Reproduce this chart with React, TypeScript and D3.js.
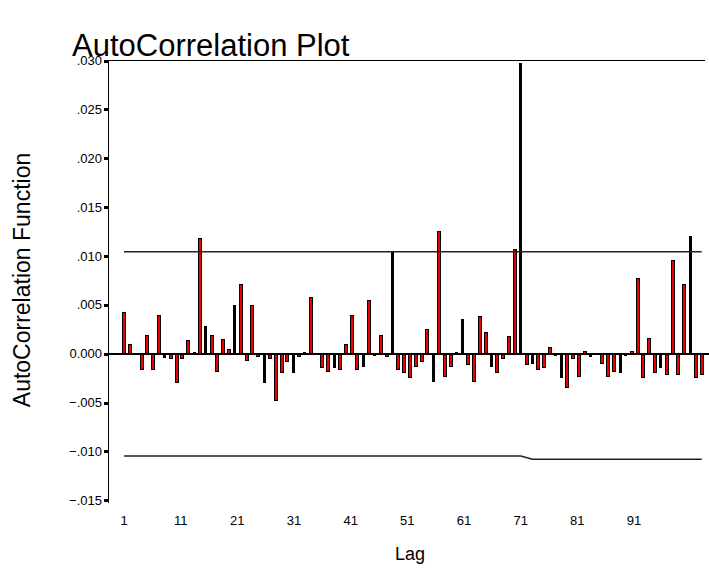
import React from 'react';
import * as d3 from 'd3';

// Autocorrelation values for lags 1..100
const acfValues: number[] = [
  0.0043, 0.0010, 0.0000, -0.0017, 0.0019, -0.0017, 0.0040, -0.0004, -0.0005, -0.0030,
  -0.0005, 0.0014, 0.0002, 0.0118, 0.0028, 0.0019, -0.0019, 0.0015, 0.0005, 0.0050,
  0.0071, -0.0007, 0.0050, -0.0003, -0.0030, -0.0005, -0.0048, -0.0020, -0.0008, -0.0020,
  -0.0003, 0.0002, 0.0058, 0.0000, -0.0015, -0.0019, -0.0015, -0.0017, 0.0010, 0.0040,
  -0.0017, -0.0014, 0.0055, -0.0002, 0.0019, -0.0003, 0.0104, -0.0017, -0.0020, -0.0025,
  -0.0014, -0.0008, 0.0025, -0.0029, 0.0126, -0.0024, -0.0014, 0.0002, 0.0036, -0.0012,
  -0.0029, 0.0039, 0.0022, -0.0014, -0.0020, -0.0005, 0.0018, 0.0107, 0.0298, -0.0012,
  -0.0010, -0.0017, -0.0015, 0.0007, -0.0002, -0.0025, -0.0035, -0.0005, -0.0024, 0.0003,
  -0.0003, 0.0000, -0.0010, -0.0024, -0.0019, -0.0020, -0.0002, 0.0003, 0.0078, -0.0025,
  0.0016, -0.0020, -0.0015, -0.0022, 0.0096, -0.0022, 0.0071, 0.0121, -0.0025, -0.0022,
];
const lags: number[] = acfValues.map((_, i) => i + 1);

// Lags whose bars are drawn narrower (solid black, no visible red fill) in the reference
const thinBarLags: number[] = [
  8, 13, 15, 20, 25, 30, 32, 37, 42, 44, 47, 54, 58, 59, 64, 69, 71, 75, 76, 81, 86, 87, 93, 98,
];

const yTickValues: number[] = [-0.015, -0.01, -0.005, 0, 0.005, 0.01, 0.015, 0.02, 0.025, 0.03];
const xTickLags: number[] = [1, 11, 21, 31, 41, 51, 61, 71, 81, 91];

const upperLimitLags: number[] = [1, 100];
const upperLimit: number[] = [0.01044, 0.01044];
const lowerLimitLags: number[] = [1, 69, 71, 100];
const lowerLimit: number[] = [-0.01047, -0.01047, -0.0108, -0.0108];

const FONT = "'Liberation Sans', Arial, sans-serif";

function fmtY(v: number): string {
  if (Math.abs(v) < 1e-12) return '0.000';
  const s = d3.format('.3f')(v);
  return s.replace('0.', '.');
}

export default function App() {
  const W = 709;
  const H = 588;
  const y = d3.scaleLinear().domain([-0.015, 0.03]).range([500.3, 60.6]);
  const x = d3.scaleLinear().domain([1, 100]).range([124, 701.7]);
  const xLab = d3.scaleLinear().domain([1, 91]).range([124, 634]);
  const axisX = 108.5;
  const y0 = Math.round(y(0));
  const thin = new Set(thinBarLags);

  const upperLine = d3
    .line<number>()
    .x((_, i) => x(upperLimitLags[i]))
    .y((d) => y(d))(upperLimit) as string;
  const lowerLine = d3
    .line<number>()
    .x((_, i) => x(lowerLimitLags[i]))
    .y((d) => y(d))(lowerLimit) as string;

  const bars = lags.map((lag, i) => {
    const v = acfValues[i];
    const cx = x(lag);
    const isThin = thin.has(lag);
    const w = isThin ? 3 : 4;
    const left = Math.round(cx - w / 2);
    const yv = Math.round(y(v));
    const top = Math.min(yv, y0);
    const h = Math.max(Math.abs(yv - y0), 1);
    return (
      <g key={lag}>
        <rect x={left} y={top} width={w} height={h} fill="#000" />
        {!isThin && h - 2 > 0 ? (
          <rect x={left + 1} y={top + 1} width={w - 2} height={h - 2} fill="#ee0000" />
        ) : null}
      </g>
    );
  });

  return (
    <svg
      width={W}
      height={H}
      style={{ position: 'absolute', left: 0, top: 0, background: '#fff' }}
      shapeRendering="crispEdges"
    >
      <rect x={0} y={0} width={W} height={H} fill="#fff" />
      <text x={72} y={56} fontFamily={FONT} fontSize={31} fill="#000">
        AutoCorrelation Plot
      </text>

      {/* top frame line */}
      <line x1={axisX} x2={705} y1={y(0.03)} y2={y(0.03)} stroke="#000" strokeWidth={1.5} />
      {/* y axis */}
      <line x1={axisX} x2={axisX} y1={y(0.03) - 1} y2={503} stroke="#000" strokeWidth={1.5} />
      {yTickValues.map((v) => (
        <g key={v}>
          <rect x={104} y={Math.round(y(v)) - 1.5} width={4} height={3} fill="#000" />
          <text
            x={102}
            y={y(v)}
            dy="0.35em"
            textAnchor="end"
            fontFamily={FONT}
            fontSize={13}
            fill="#000"
          >
            {fmtY(v)}
          </text>
        </g>
      ))}

      {bars}

      {/* zero line */}
      <line x1={axisX} x2={709} y1={y0} y2={y0} stroke="#000" strokeWidth={1.5} />

      {/* confidence limits */}
      <path d={upperLine} fill="none" stroke="#222" strokeWidth={1.5} shapeRendering="auto" />
      <path d={lowerLine} fill="none" stroke="#222" strokeWidth={1.5} shapeRendering="auto" />

      {xTickLags.map((l) => (
        <text
          key={l}
          x={xLab(l)}
          y={525}
          textAnchor="middle"
          fontFamily={FONT}
          fontSize={13}
          fill="#000"
        >
          {l}
        </text>
      ))}

      <text
        transform={`translate(30,280) rotate(-90)`}
        textAnchor="middle"
        fontFamily={FONT}
        fontSize={23}
        fill="#000"
      >
        AutoCorrelation Function
      </text>
      <text x={410} y={560} textAnchor="middle" fontFamily={FONT} fontSize={18} fill="#000">
        Lag
      </text>
    </svg>
  );
}
